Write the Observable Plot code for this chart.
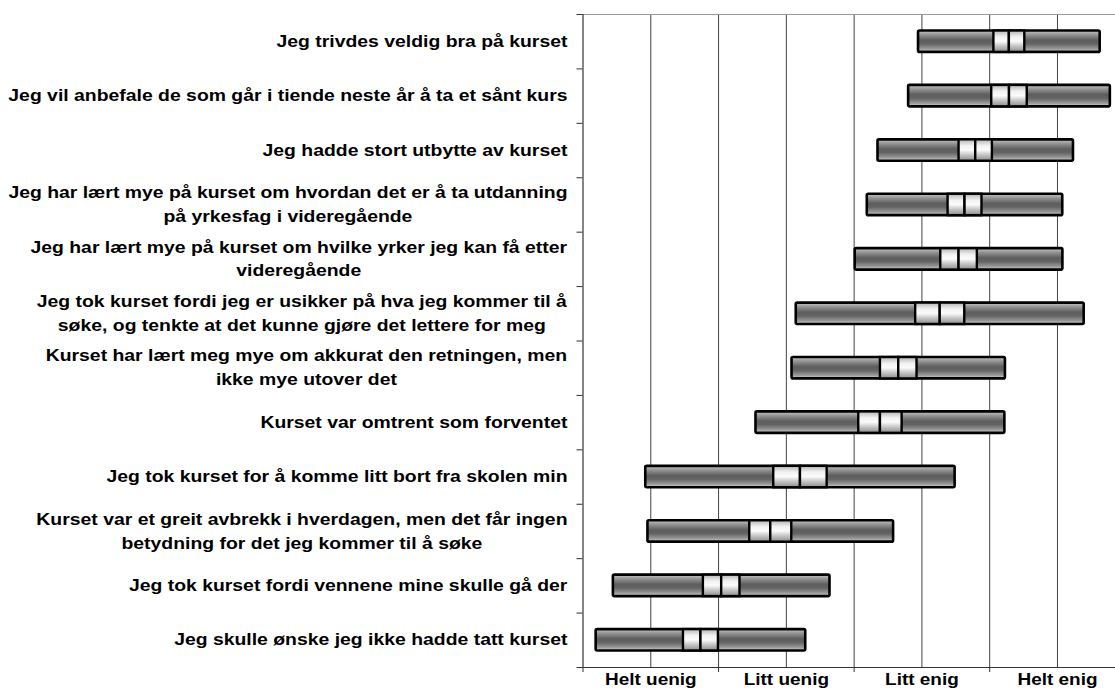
<!DOCTYPE html>
<html>
<head>
<meta charset="utf-8">
<script src="https://cdn.jsdelivr.net/npm/d3@7"></script>
<script src="https://cdn.jsdelivr.net/npm/@observablehq/plot@0.6"></script>
<style>
  html, body { margin: 0; padding: 0; background: #fff; overflow: hidden; }
</style>
</head>
<body>
<div id="chart"></div>
<script>
// ---- Data ----
const statements = [
  "Jeg trivdes veldig bra på kurset",
  "Jeg vil anbefale de som går i tiende neste år å ta et sånt kurs",
  "Jeg hadde stort utbytte av kurset",
  "Jeg har lært mye på kurset om hvordan det er å ta utdanning\npå yrkesfag i videregående",
  "Jeg har lært mye på kurset om hvilke yrker jeg kan få etter\nvideregående",
  "Jeg tok kurset fordi jeg er usikker på hva jeg kommer til å\nsøke, og tenkte at det kunne gjøre det lettere for meg",
  "Kurset har lært meg mye om akkurat den retningen, men\nikke mye utover det",
  "Kurset var omtrent som forventet",
  "Jeg tok kurset for å komme litt bort fra skolen min",
  "Kurset var et greit avbrekk i hverdagen, men det får ingen\nbetydning for det jeg kommer til å søke",
  "Jeg tok kurset fordi vennene mine skulle gå der",
  "Jeg skulle ønske jeg ikke hadde tatt kurset"
];
const means = [3.645, 3.646, 3.397, 3.318, 3.274, 3.135, 2.829, 2.694, 2.104, 1.885, 1.523, 1.370];
const sds   = [0.670, 0.744, 0.721, 0.721, 0.766, 1.062, 0.787, 0.918, 1.141, 0.906, 0.799, 0.773];
const cis   = [0.114, 0.131, 0.123, 0.125, 0.135, 0.181, 0.135, 0.160, 0.197, 0.155, 0.135, 0.129];

const scaleLabels = ["Helt uenig", "Litt uenig", "Litt enig", "Helt enig"];
const scaleValues = [1, 2, 3, 4];
const gridValues = [1, 1.5, 2, 2.5, 3, 3.5, 4];
const boundaryTicks = [0.5, 1.5, 2.5, 3.5];
const rowBoundaries = d3.range(0, statements.length + 1);

const rows = statements.map((label, i) => ({
  i, label, mean: means[i], sd: sds[i], ci: cis[i]
}));
const lightBoxes = rows.flatMap(r => [
  {i: r.i, x1: r.mean - r.ci, x2: r.mean},
  {i: r.i, x1: r.mean, x2: r.mean + r.ci}
]);

// ---- Gradient defs as a render-function mark ----
function gradientDefs() {
  const defs = d3.create("svg:defs");
  const dark = defs.append("linearGradient").attr("id", "gDark")
    .attr("x1", 0).attr("y1", 0).attr("x2", 0).attr("y2", 1);
  [[0, "#c8c8c8"], [0.2, "#939393"], [0.45, "#5e5e5e"], [0.62, "#636363"], [0.85, "#989898"], [1, "#d6d6d6"]]
    .forEach(([o, c]) => dark.append("stop").attr("offset", o).attr("stop-color", c));
  const light = defs.append("linearGradient").attr("id", "gLight")
    .attr("x1", 0).attr("y1", 0).attr("x2", 0).attr("y2", 1);
  [[0, "#b4b4b4"], [0.3, "#f2f2f2"], [0.5, "#fbfbfb"], [0.75, "#c0c0c0"], [1, "#8e8e8e"]]
    .forEach(([o, c]) => light.append("stop").attr("offset", o).attr("stop-color", c));
  return defs.node();
}

const FONT = "'Liberation Sans', Arial, sans-serif";

const chart = Plot.plot({
  width: 1115,
  height: 689,
  marginLeft: 582.5,
  marginRight: 0,
  marginTop: 14,
  marginBottom: 22,
  style: {fontFamily: FONT, fontSize: "16.5px", fontWeight: "bold", background: "#fff", overflow: "visible"},
  x: {domain: [0.5, 4.428], axis: null},
  y: {domain: [0, statements.length], reverse: true, axis: null},
  marks: [
    gradientDefs,
    Plot.ruleX(gridValues, {stroke: "#444", strokeWidth: 1}),
    Plot.ruleY([0], {stroke: "#999", strokeWidth: 1.2}),
    Plot.ruleX([0.5], {stroke: "#333", strokeWidth: 1.2}),
    Plot.ruleY([statements.length], {stroke: "#333", strokeWidth: 1.2}),
    Plot.axisY(rowBoundaries, {tickSize: 6, tickFormat: () => "", label: null, stroke: "#333"}),
    Plot.axisX(boundaryTicks, {tickSize: 5, tickFormat: () => "", label: null, stroke: "#333"}),
    Plot.rect(rows, {
      x1: d => d.mean - d.sd, x2: d => d.mean + d.sd,
      y1: d => d.i, y2: d => d.i + 1,
      insetTop: 16.5, insetBottom: 16.5,
      fill: "url(#gDark)", stroke: "#000", strokeWidth: 2.6, rx: 1.5
    }),
    Plot.rect(lightBoxes, {
      x1: "x1", x2: "x2",
      y1: d => d.i, y2: d => d.i + 1,
      insetTop: 16.5, insetBottom: 16.5,
      fill: "url(#gLight)", stroke: "#000", strokeWidth: 2.4
    }),
    Plot.text(rows, {
      y: d => d.i + 0.5, text: "label", frameAnchor: "left",
      textAnchor: "end", lineAnchor: "middle", lineHeight: 1.45,
      dx: -15.5, dy: -2.5, fill: "#000"
    }),
    Plot.text(scaleValues, {
      x: d => d, text: d => scaleLabels[d - 1], frameAnchor: "bottom",
      lineAnchor: "top", dy: 6, fill: "#000"
    })
  ]
});

document.getElementById("chart").append(chart);

// The reference's lettering is horizontally wide: stretch each label about its anchor,
// and centre the lines of two-line labels inside their right-aligned block.
const SX_ROWS = 1.175, SX_AXIS = 1.15;
const textGroups = chart.querySelectorAll('g[aria-label="text"]');
textGroups.forEach((g, gi) => {
  g.querySelectorAll("text").forEach(t => {
    const bb = t.getBBox();
    const tspans = t.querySelectorAll("tspan");
    const base = t.getAttribute("transform") || "";
    if (gi === 0) {
      const right = bb.x + bb.width;
      let shift = 0;
      if (tspans.length > 1) {
        t.setAttribute("text-anchor", "middle");
        shift = -bb.width / 2;
      }
      t.setAttribute("transform", `${base} translate(${right},0) scale(${SX_ROWS},1) translate(${-right + shift},0)`);
    } else {
      const c = bb.x + bb.width / 2;
      t.setAttribute("transform", `${base} translate(${c},0) scale(${SX_AXIS},1) translate(${-c},0)`);
    }
  });
});
</script>
</body>
</html>
